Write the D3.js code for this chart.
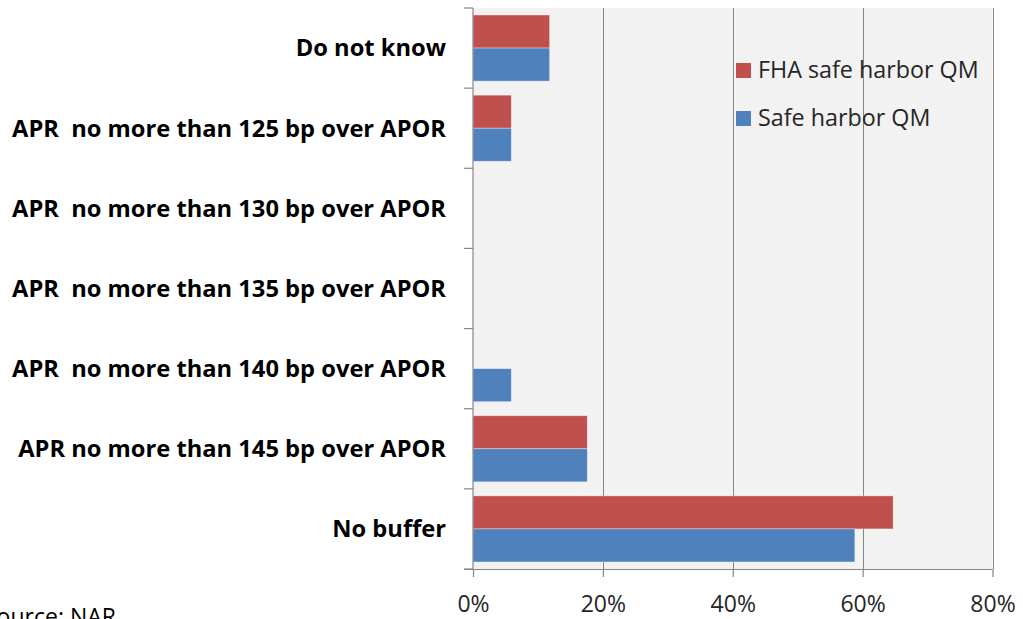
<!DOCTYPE html>
<html>
<head>
<meta charset="utf-8">
<script src="https://cdn.jsdelivr.net/npm/d3@7"></script>
<style>
  html, body { margin: 0; padding: 0; background: #fff; }
  svg { display: block; }
</style>
</head>
<body>
<svg id="chart" width="1023" height="619"></svg>
<script>
const categories = [
  'Do not know',
  'APR  no more than 125 bp over APOR',
  'APR  no more than 130 bp over APOR',
  'APR  no more than 135 bp over APOR',
  'APR  no more than 140 bp over APOR',
  'APR no more than 145 bp over APOR',
  'No buffer',
];
const fhaSafeHarbor = [11.8, 5.9, 0, 0, 0, 17.6, 64.7];
const safeHarbor = [11.8, 5.9, 0, 0, 5.9, 17.6, 58.8];
const seriesNames = ['FHA safe harbor QM', 'Safe harbor QM'];
const seriesColors = ['#C0504D', '#4F81BD'];
const xTicks = [0, 20, 40, 60, 80];

const svg = d3.select('#chart');
const plot = { left: 473, right: 992.5, top: 8, bottom: 569 };
const font = 'Open Sans, Noto Sans, sans-serif';

const x = d3.scaleLinear().domain([0, 80]).range([plot.left, plot.right]);
const y = d3
  .scaleBand()
  .domain(categories)
  .range([plot.top, plot.bottom])
  .paddingInner(0.175)
  .paddingOuter(0.0875);
const ySub = d3.scaleBand().domain([0, 1]).range([0, y.bandwidth()]);

// plot background
svg
  .append('rect')
  .attr('x', plot.left)
  .attr('y', plot.top)
  .attr('width', plot.right - plot.left)
  .attr('height', plot.bottom - plot.top)
  .attr('fill', '#F2F2F2');

// vertical gridlines
svg
  .append('g')
  .selectAll('line')
  .data(xTicks.slice(1))
  .join('line')
  .attr('x1', (d) => Math.round(x(d)) + 0.5)
  .attr('x2', (d) => Math.round(x(d)) + 0.5)
  .attr('y1', plot.top)
  .attr('y2', plot.bottom)
  .attr('stroke', '#868686')
  .attr('stroke-width', 1);

// bars (zero values are not drawn)
const rows = categories.map((c, i) => ({ c, vals: [fhaSafeHarbor[i], safeHarbor[i]] }));
svg
  .append('g')
  .selectAll('g')
  .data(rows)
  .join('g')
  .attr('transform', (d) => `translate(0,${y(d.c)})`)
  .selectAll('rect')
  .data((d) => d.vals.map((v, k) => ({ v, k })).filter((e) => e.v > 0))
  .join('rect')
  .attr('x', x(0))
  .attr('y', (d) => ySub(d.k))
  .attr('width', (d) => x(d.v) - x(0))
  .attr('height', ySub.bandwidth())
  .attr('fill', (d) => seriesColors[d.k])
  .attr('stroke', 'rgba(255,255,255,0.45)')
  .attr('stroke-width', 0.8);

// left axis, ticks sit on the band boundaries
const axisColor = '#868686';
const bandStep = (plot.bottom - plot.top) / categories.length;
const yEdges = d3.range(categories.length + 1).map((i) => plot.top + i * bandStep);
const axes = svg.append('g').attr('stroke', axisColor).attr('stroke-width', 1.2);
axes
  .append('line')
  .attr('x1', plot.left)
  .attr('x2', plot.left)
  .attr('y1', plot.top)
  .attr('y2', plot.bottom);
axes
  .selectAll('.ytick')
  .data(yEdges)
  .join('line')
  .attr('class', 'ytick')
  .attr('x1', plot.left - 9)
  .attr('x2', plot.left)
  .attr('y1', (d) => d)
  .attr('y2', (d) => d);

// bottom axis
svg
  .append('g')
  .attr('transform', `translate(0,${plot.bottom})`)
  .call(
    d3
      .axisBottom(x)
      .tickValues(xTicks)
      .tickSize(8)
      .tickPadding(19)
      .tickFormat((d) => d + '%'),
  )
  .call((g) => g.select('.domain').attr('stroke', axisColor).attr('stroke-width', 1.2)
    .attr('d', `M${plot.left - 9},0.5H${plot.right}`))
  .call((g) => g.selectAll('.tick line').attr('stroke', axisColor).attr('stroke-width', 1.2))
  .call((g) => g.selectAll('.tick text')
    .attr('fill', '#262626')
    .style('font-family', font)
    .style('font-size', '23px'));

// category labels
svg
  .append('g')
  .selectAll('text')
  .data(categories)
  .join('text')
  .attr('x', 446)
  .attr('y', (d) => y(d) + y.bandwidth() / 2)
  .attr('dy', '0.35em')
  .attr('text-anchor', 'end')
  .attr('fill', '#000')
  .attr('xml:space', 'preserve')
  .style('font-family', font)
  .style('font-weight', 'bold')
  .style('font-size', '23.7px')
  .style('white-space', 'pre')
  .text((d) => d);

// legend
const legend = svg
  .append('g')
  .selectAll('g')
  .data(seriesNames)
  .join('g')
  .attr('transform', (d, i) => `translate(736,${63 + i * 48})`);
legend
  .append('rect')
  .attr('width', 15)
  .attr('height', 15)
  .attr('fill', (d, i) => seriesColors[i]);
legend
  .append('text')
  .attr('x', 22)
  .attr('y', 15)
  .attr('fill', '#262626')
  .style('font-family', font)
  .style('font-size', '23.3px')
  .text((d) => d);

// source note, cut by the left and bottom edges as in the original
svg
  .append('text')
  .attr('x', -16)
  .attr('y', 625)
  .attr('fill', '#000')
  .style('font-family', font)
  .style('font-size', '23px')
  .text('Source: NAR');
</script>
</body>
</html>
